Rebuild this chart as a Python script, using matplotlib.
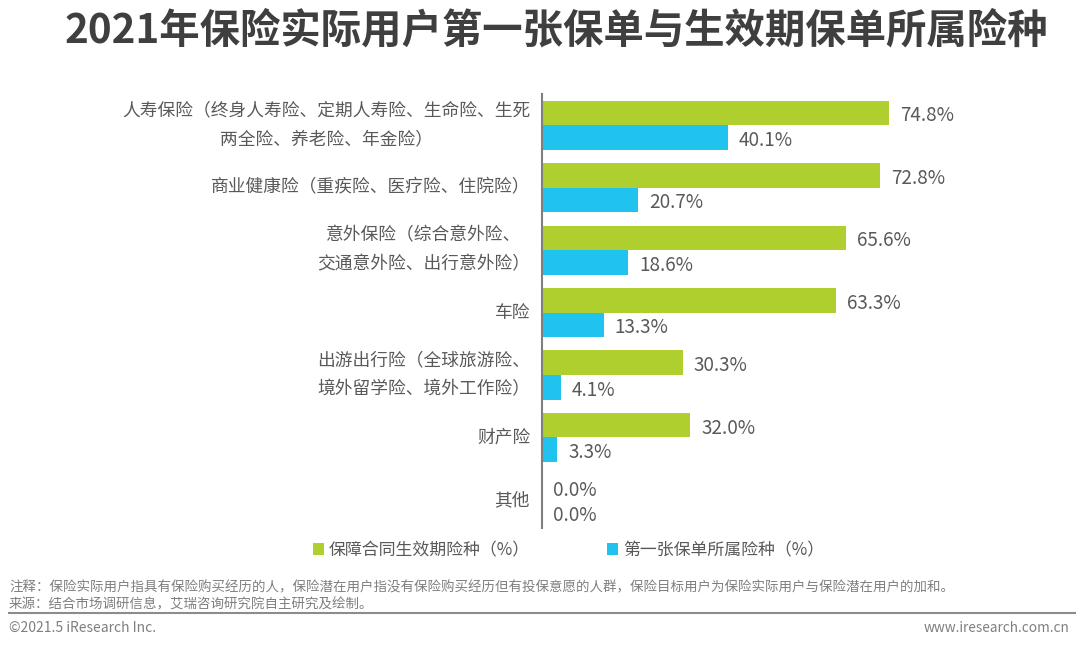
import matplotlib
matplotlib.use("Agg")
import matplotlib.pyplot as plt
import numpy as np
from matplotlib.lines import Line2D

plt.rcParams['font.family'] = ['Noto Sans CJK SC', 'DejaVu Sans']

categories = [
    '人寿保险（终身人寿险、定期人寿险、生命险、生死\n两全险、养老险、年金险）',
    '商业健康险（重疾险、医疗险、住院险）',
    '意外保险（综合意外险、\n交通意外险、出行意外险）',
    '车险',
    '出游出行险（全球旅游险、\n境外留学险、境外工作险）',
    '财产险',
    '其他',
]
effective = [74.8, 72.8, 65.6, 63.3, 30.3, 32.0, 0.0]
first_policy = [40.1, 20.7, 18.6, 13.3, 4.1, 3.3, 0.0]

W, H = 1080, 648
GREEN = '#AECF2E'
BLUE = '#1FC3EE'
TEXT = '#595959'

fig = plt.figure(figsize=(W / 100, H / 100), dpi=100, facecolor='white')
# axes placed in pixel terms: spine at x=542, y from 94 to 528
ax = fig.add_axes([542 / W, 1 - 528 / H, (1080 - 542) / W, (528 - 94) / H])

y = np.arange(len(categories))
bar_h = 0.393
ax.barh(y - bar_h / 2, effective, bar_h, color=GREEN, label='保障合同生效期险种（%）')
ax.barh(y + bar_h / 2, first_policy, bar_h, color=BLUE, label='第一张保单所属险种（%）')

for yi, v in zip(y - bar_h / 2, effective):
    ax.annotate(f'{v:.1f}%', (v, yi), xytext=(11, -3), textcoords='offset pixels',
                va='center', fontsize=13.6, color=TEXT)
for yi, v in zip(y + bar_h / 2, first_policy):
    ax.annotate(f'{v:.1f}%', (v, yi), xytext=(11, -3), textcoords='offset pixels',
                va='center', fontsize=13.6, color=TEXT)

ax.set_xlim(0, (1080 - 542) / 4.64)
ax.set_ylim(6.45, -0.5)
ax.set_yticks(y)
ax.set_yticklabels(categories, fontsize=12.75, color=TEXT, ha='right', va='center',
                   multialignment='center', linespacing=1.78)
ax.tick_params(axis='y', length=0, pad=8.5)
ax.xaxis.set_visible(False)
for side in ['top', 'right', 'bottom']:
    ax.spines[side].set_visible(False)
ax.spines['left'].set_color('#7F7F7F')
ax.spines['left'].set_linewidth(1.5)
ax.patch.set_alpha(0)

fig.text(556 / W, 1 - 31 / H, '2021年保险实际用户第一张保单与生效期保单所属险种',
         fontsize=29.1, fontweight='bold', color='#3F3F3F', ha='center', va='center')

fig.legend(*ax.get_legend_handles_labels(), loc='center', ncol=2, frameon=False,
           bbox_to_anchor=(568.5 / W, 1 - 550 / H), fontsize=12.2, labelcolor=TEXT,
           handlelength=0.65, handleheight=0.65, handletextpad=0.25, columnspacing=4.6)

note = '注释：保险实际用户指具有保险购买经历的人，保险潜在用户指没有保险购买经历但有投保意愿的人群，保险目标用户为保险实际用户与保险潜在用户的加和。'
source = '来源：结合市场调研信息，艾瑞咨询研究院自主研究及绘制。'
fig.text(9 / W, 1 - 587.5 / H, note, fontsize=9.7, color='#7F7F7F', va='center')
fig.text(9 / W, 1 - 604 / H, source, fontsize=9.7, color='#7F7F7F', va='center')

fig.add_artist(Line2D([9 / W, 1075 / W], [1 - 612.5 / H, 1 - 612.5 / H], color='#8C8C8C', lw=1.5))

fig.text(9 / W, 1 - 628 / H, '©2021.5 iResearch Inc.', fontsize=10, color='#7F7F7F', va='center')
fig.text(1069 / W, 1 - 628 / H, 'www.iresearch.com.cn', fontsize=9.8, color='#7F7F7F',
         va='center', ha='right')

fig.savefig('out.png', dpi=100)
